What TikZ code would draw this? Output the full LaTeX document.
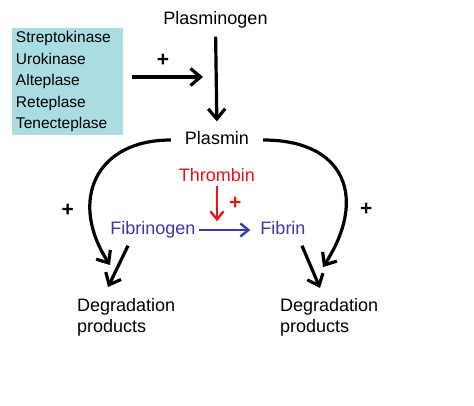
\documentclass[tikz,border=0pt]{standalone}
\usepackage{fontspec}
\setmainfont{Liberation Sans}
\usetikzlibrary{arrows.meta, positioning}
\definecolor{drugbg}{HTML}{ABDCE2}
\definecolor{thrombred}{HTML}{E8131B}
\definecolor{fibblue}{HTML}{3C3AA6}

\begin{document}
\begin{tikzpicture}[
    x=1pt, y=1pt,
    term/.style={font=\fontsize{18}{21}\selectfont, inner sep=0pt,
                 text height=13pt, text depth=4pt},
    drugbox/.style={rectangle, fill=drugbg, text width=103pt, minimum height=107pt,
                    inner xsep=4pt, align=left, font=\fontsize{15.5}{21.5}\selectfont},
    product/.style={font=\fontsize{18}{21}\selectfont, inner sep=0pt, align=left, anchor=west},
    plus/.style={font=\bfseries\fontsize{21}{21}\selectfont, inner sep=0pt},
    arrow/.style={-{Straight Barb[length=10pt, width=17pt]}, line width=3.2pt},
    thinarrow/.style={-{Straight Barb[length=8pt, width=13pt]}, line width=2.4pt}
  ]
    \fill[white] (0,0) rectangle (474,405);
    \useasboundingbox (0,0) rectangle (474,405);

    \node[drugbox] (drugs) at (67.5,323.5)
      {Streptokinase\\Urokinase\\Alteplase\\Reteplase\\Tenecteplase};
    \node[term] (plasminogen) at (215.5,385) {Plasminogen};
    \node[term] (plasmin) at (217,265) {Plasmin};
    \node[term, text=thrombred] (thrombin) at (217,228) {Thrombin};
    \node[term, text=fibblue] (fibrinogen) at (153,175) {Fibrinogen};
    \node[term, text=fibblue] (fibrin) at (283,175) {Fibrin};
    \node[product] (degL) at (77,88) {Degradation\\products};
    \node[product] (degR) at (280,88) {Degradation\\products};

    \coordinate (meet) at (203,328);
    \coordinate (tipL) at (110,140);
    \coordinate (tipR) at (323,138);
    \coordinate (endL) at (108,118);
    \coordinate (endR) at (320,117);

    % activation of plasminogen
    \draw[arrow, shorten <=8pt, shorten >=10pt] (plasminogen.south) -- (plasmin.north);
    \draw[arrow, shorten <=9pt] (drugs.east |- meet) -- (meet)
      node[plus, midway, above=9pt] {+};

    % plasmin acting on both sides
    \draw[arrow] ([xshift=-14pt]plasmin.west) to[out=180, in=123, looseness=1.4]
      node[plus, pos=0.7, left=15pt] {+} (tipL);
    \draw[arrow] ([xshift=14pt]plasmin.east) to[out=0, in=57, looseness=1.5]
      node[plus, pos=0.7, right=13pt] {+} (tipR);

    % clotting
    \draw[thinarrow, fibblue, shorten <=3pt, shorten >=10pt] (fibrinogen.east) -- (fibrin.west);
    \draw[thinarrow, thrombred] (thrombin.south) -- (thrombin.south |- fibrinogen.north)
      node[plus, text=thrombred, midway, right=11pt] {+};

    \draw[arrow] ([shift={(-25,-7)}]fibrinogen.south) -- (endL);
    \draw[arrow] ([shift={(19,-7)}]fibrin.south) -- (endR);
\end{tikzpicture}
\end{document}
